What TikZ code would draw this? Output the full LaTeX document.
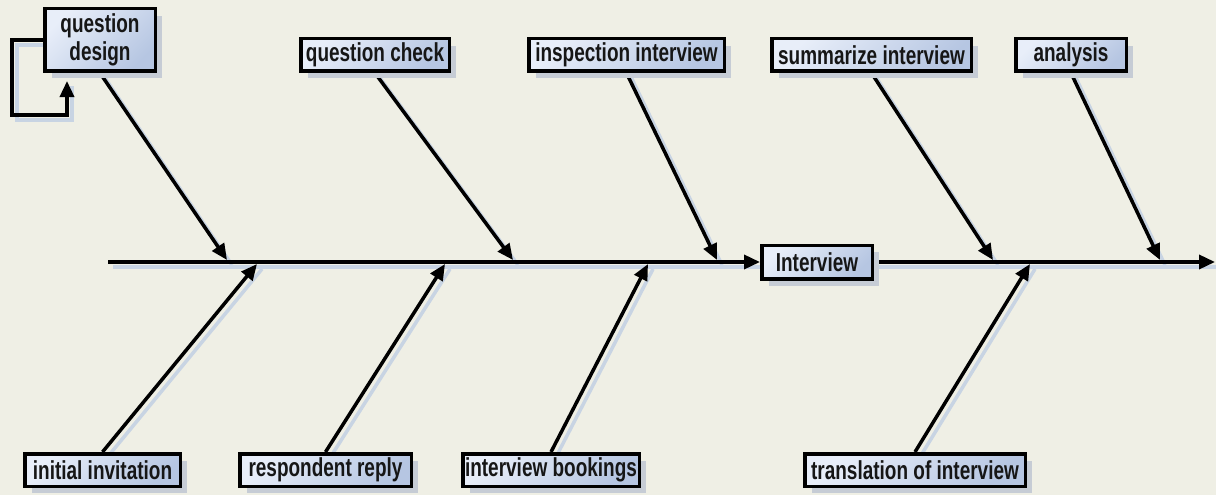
\documentclass[tikz,border=0pt]{standalone}
\usepackage{fontspec}
\setmainfont{Liberation Sans}[FakeStretch=0.73]
\usetikzlibrary{arrows.meta,shadows,calc,backgrounds}
\definecolor{paper}{HTML}{EFEFE5}
\definecolor{boxlight}{HTML}{E8EEF9}
\definecolor{boxdark}{HTML}{B6C6E2}
\definecolor{boxshadow}{HTML}{C6CCD5}
\definecolor{lineshadow}{HTML}{C8D4E3}
\definecolor{ink}{HTML}{161616}

\begin{document}
\begin{tikzpicture}[x=1pt,y=-1pt,
  every node/.style={font=\fontsize{26}{28}\selectfont\bfseries, text=ink},
  cause/.style={draw=black, line width=3.5pt, top color=boxlight, bottom color=boxdark,
    shading angle=45, inner sep=0pt, minimum height=32.5pt, align=center,
    drop shadow={shadow xshift=7pt, shadow yshift=-7pt, fill=boxshadow, opacity=1}},
  bone/.style={line width=3.5pt, -{Triangle[length=16pt,width=14pt]}},
  boneshadow/.style={line width=3.5pt, draw=lineshadow,
    transform canvas={shift={(5pt,-5pt)}}},
]
\useasboundingbox (0,0) rectangle (1216,495);
\begin{scope}[on background layer]
  \fill[paper] (0,0) rectangle (1216,495);
\end{scope}

% effect box and cause boxes
\node[cause, minimum width=110.5pt, minimum height=62.5pt] (qd) at (100,40) {question\\design};
\node[cause, minimum width=148.5pt] (qc) at (375,55) {question check};
\node[cause, minimum width=195.5pt] (ii) at (626.5,55) {inspection interview};
\node[cause, minimum width=199.5pt] (si) at (871.5,55) {summarize interview};
\node[cause, minimum width=110.5pt] (an) at (1071,55) {analysis};
\node[cause, minimum width=110.5pt, minimum height=33.5pt] (iv) at (817,262) {Interview};
\node[cause, minimum width=155.5pt] (inv) at (102.5,470) {initial invitation};
\node[cause, minimum width=171.5pt] (rr) at (325.5,470) {respondent reply};
\node[cause, minimum width=176.5pt] (ib) at (551,470) {interview bookings};
\node[cause, minimum width=220.5pt] (tr) at (915,470) {translation of interview};

% spine ends and bone tips
\coordinate (tail) at (108,262);
\coordinate (head) at (1215,262);
\coordinate (t1) at (227,260);
\coordinate (t2) at (513,260);
\coordinate (t3) at (717,260);
\coordinate (t4) at (993,260);
\coordinate (t5) at (1160,260);
\coordinate (b1) at (257,264);
\coordinate (b2) at (445,264);
\coordinate (b3) at (648,264);
\coordinate (b4) at (1030,264);
\coordinate (loopcorner) at (12,115);

\begin{scope}[on background layer]
  % soft shadows under every line
  \draw[boneshadow] (tail) -- (head);
  \draw[boneshadow] (qd.south) -- (t1);
  \draw[boneshadow] (qc.south) -- (t2);
  \draw[boneshadow] (ii.south) -- (t3);
  \draw[boneshadow] (si.south) -- (t4);
  \draw[boneshadow] (an.south) -- (t5);
  \draw[boneshadow] (inv.north) -- (b1);
  \draw[boneshadow] (rr.north) -- (b2);
  \draw[boneshadow] (ib.north) -- (b3);
  \draw[boneshadow] (tr.north) -- (b4);
  \draw[boneshadow] (qd.west) -| (loopcorner) -| ($(qd.south)+(-33,8)$);

  % spine
  \draw[bone] (tail) -- (iv.west);
  \draw[bone] (iv.east) -- (head);
  % upper bones
  \draw[bone] (qd.south) -- (t1);
  \draw[bone] (qc.south) -- (t2);
  \draw[bone] (ii.south) -- (t3);
  \draw[bone] (si.south) -- (t4);
  \draw[bone] (an.south) -- (t5);
  % lower bones
  \draw[bone] (inv.north) -- (b1);
  \draw[bone] (rr.north) -- (b2);
  \draw[bone] (ib.north) -- (b3);
  \draw[bone] (tr.north) -- (b4);
  % rework loop on the design step
  \draw[bone, shorten >=8pt] (qd.west) -| (loopcorner) -| ($(qd.south)+(-33,0)$);
\end{scope}
\end{tikzpicture}
\end{document}
